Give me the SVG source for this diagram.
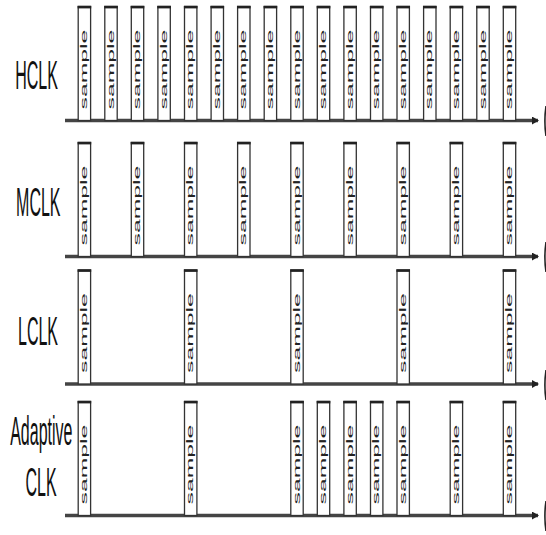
<svg xmlns="http://www.w3.org/2000/svg" xmlns:xlink="http://www.w3.org/1999/xlink" width="546" height="535" viewBox="0 0 546 535">
  <style>
    .label { font-family: "Liberation Sans", Arial, sans-serif; font-size: 40px; fill: #111; text-anchor: middle; }
    .ptxt { font-family: "Liberation Sans", Arial, sans-serif; font-size: 24.8px; fill: #222; }
    .pside { fill: #fff; stroke: #333; stroke-width: 1.3; }
    .ptop { stroke: #222; stroke-width: 2.6; }
    .axis { stroke: #444; stroke-width: 3.4; fill: none; }
    .edge { stroke: #222; stroke-width: 1.6; fill: none; }
  </style>
  <defs>
    <!-- one sampling pulse: box standing on the axis, heavy top edge, rotated caption -->
    <g id="pulse">
      <rect class="pside" x="0" y="0" width="12.4" height="114"/>
      <line class="ptop" x1="-0.6" y1="0.6" x2="13" y2="0.6"/>
      <text class="ptxt" transform="translate(8.7,103) scale(0.4,1) rotate(-90)">sample</text>
    </g>
    <marker id="arrow" markerWidth="8" markerHeight="8" refX="6" refY="4" orient="auto" markerUnits="userSpaceOnUse">
      <path d="M0,0 L7,4 L0,8 Z" fill="#222"/>
    </marker>
  </defs>

  <!-- time axes -->
  <g id="connectors">
    <line class="axis" x1="65" y1="120.5" x2="538" y2="120.5" marker-end="url(#arrow)"/>
    <line class="axis" x1="65" y1="256.5" x2="538" y2="256.5" marker-end="url(#arrow)"/>
    <line class="axis" x1="65" y1="384" x2="538" y2="384" marker-end="url(#arrow)"/>
    <line class="axis" x1="65" y1="515.5" x2="538" y2="515.5" marker-end="url(#arrow)"/>
    <path class="edge" d="M546,106 Q543.8,121 546,136"/>
    <path class="edge" d="M546,242 Q543.8,257 546,272"/>
    <path class="edge" d="M546,370 Q543.8,385 546,400"/>
    <path class="edge" d="M546,501 Q543.8,516 546,531"/>
  </g>

  <!-- HCLK: sample every period -->
  <g id="hclk">
    <text class="label" transform="translate(36.5,89) scale(0.4,1)">HCLK</text>
    <use xlink:href="#pulse" x="78.2" y="6.5"/>
    <use xlink:href="#pulse" x="104.8" y="6.5"/>
    <use xlink:href="#pulse" x="131.3" y="6.5"/>
    <use xlink:href="#pulse" x="157.9" y="6.5"/>
    <use xlink:href="#pulse" x="184.5" y="6.5"/>
    <use xlink:href="#pulse" x="211.1" y="6.5"/>
    <use xlink:href="#pulse" x="237.6" y="6.5"/>
    <use xlink:href="#pulse" x="264.2" y="6.5"/>
    <use xlink:href="#pulse" x="290.8" y="6.5"/>
    <use xlink:href="#pulse" x="317.3" y="6.5"/>
    <use xlink:href="#pulse" x="343.9" y="6.5"/>
    <use xlink:href="#pulse" x="370.5" y="6.5"/>
    <use xlink:href="#pulse" x="397.0" y="6.5"/>
    <use xlink:href="#pulse" x="423.6" y="6.5"/>
    <use xlink:href="#pulse" x="450.2" y="6.5"/>
    <use xlink:href="#pulse" x="476.8" y="6.5"/>
    <use xlink:href="#pulse" x="503.3" y="6.5"/>
  </g>

  <!-- MCLK: every second period -->
  <g id="mclk">
    <text class="label" transform="translate(38.3,216) scale(0.4,1)">MCLK</text>
    <use xlink:href="#pulse" x="78.2" y="142.5"/>
    <use xlink:href="#pulse" x="131.3" y="142.5"/>
    <use xlink:href="#pulse" x="184.5" y="142.5"/>
    <use xlink:href="#pulse" x="237.6" y="142.5"/>
    <use xlink:href="#pulse" x="290.8" y="142.5"/>
    <use xlink:href="#pulse" x="343.9" y="142.5"/>
    <use xlink:href="#pulse" x="397.0" y="142.5"/>
    <use xlink:href="#pulse" x="450.2" y="142.5"/>
    <use xlink:href="#pulse" x="503.3" y="142.5"/>
  </g>

  <!-- LCLK: every fourth period -->
  <g id="lclk">
    <text class="label" transform="translate(38,345) scale(0.4,1)">LCLK</text>
    <use xlink:href="#pulse" x="78.2" y="270"/>
    <use xlink:href="#pulse" x="184.5" y="270"/>
    <use xlink:href="#pulse" x="290.8" y="270"/>
    <use xlink:href="#pulse" x="397.0" y="270"/>
    <use xlink:href="#pulse" x="503.3" y="270"/>
  </g>

  <!-- Adaptive CLK: sparse, then dense, then sparse again -->
  <g id="adaptive-clk">
    <text class="label" transform="translate(41.3,445) scale(0.4,1)">Adaptive</text>
    <text class="label" transform="translate(41,496) scale(0.4,1)">CLK</text>
    <use xlink:href="#pulse" x="78.2" y="401.5"/>
    <use xlink:href="#pulse" x="184.5" y="401.5"/>
    <use xlink:href="#pulse" x="290.8" y="401.5"/>
    <use xlink:href="#pulse" x="317.3" y="401.5"/>
    <use xlink:href="#pulse" x="343.9" y="401.5"/>
    <use xlink:href="#pulse" x="370.5" y="401.5"/>
    <use xlink:href="#pulse" x="397.0" y="401.5"/>
    <use xlink:href="#pulse" x="450.2" y="401.5"/>
    <use xlink:href="#pulse" x="503.3" y="401.5"/>
  </g>
</svg>
